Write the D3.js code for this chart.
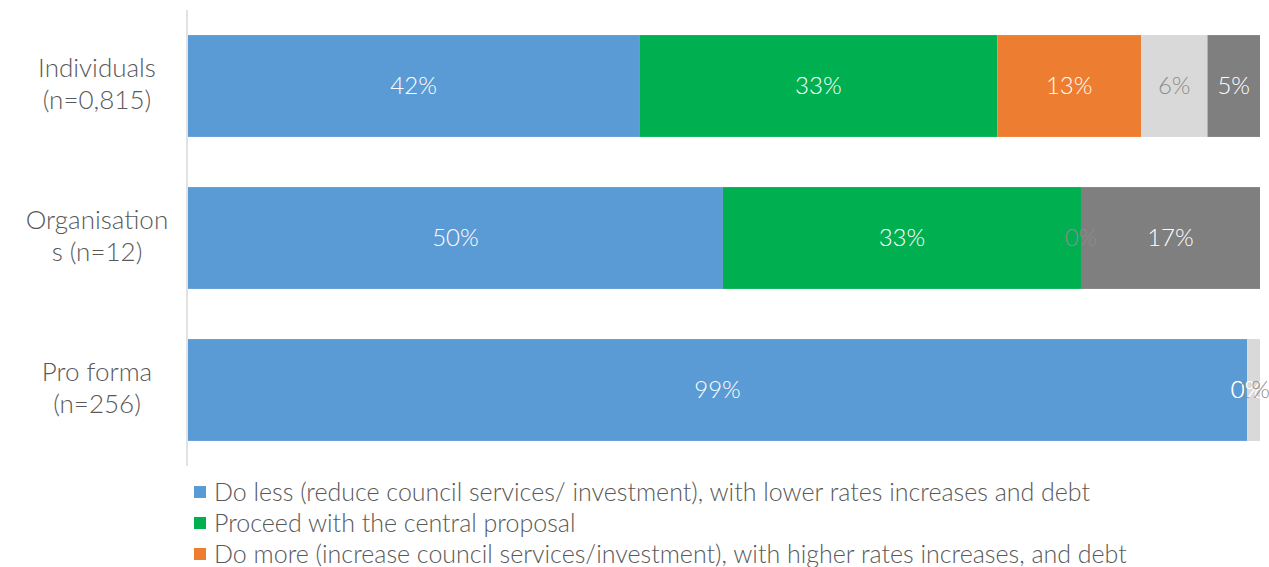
<!DOCTYPE html>
<html lang="en">
<head>
<meta charset="UTF-8">
<title>Chart</title>
<script src="https://cdn.jsdelivr.net/npm/d3@7/dist/d3.min.js"></script>
<style>
  body{margin:0;background:#fff;}
  text{font-family:Lato,"Open Sans",sans-serif;font-weight:300;}
</style>
</head>
<body>
<div class="chart"></div>
<script>
    // categories (two-line labels)
    let categories=[["Individuals","(n=0,815)"],["Organisation","s (n=12)"],["Pro forma","(n=256)"]]
    let seriesNames=[
        "Do less (reduce council services/ investment), with lower rates increases and debt",
        "Proceed with the central proposal",
        "Do more (increase council services/investment), with higher rates increases, and debt",
        "Don't know",
        "Other"
    ]
    let colors=["#5b9bd5","#00b050","#ed7d31","#d9d9d9","#7f7f7f"]
    let labelColors=["#fff","#fff","#fff","#8c8c8c","#fff"]
    // percent values per series, one entry per category
    let doLess=[42.1,49.9,98.8]
    let proceed=[33.4,33.4,0]
    let doMore=[13.4,null,0]
    let dontKnow=[6.2,0,1.2]
    let other=[4.9,16.7,null]
    let values=[doLess,proceed,doMore,dontKnow,other]

    let W=1269,H=567
    let svg=d3.select('.chart').append('svg').attr('width',W).attr('height',H)

    let x=d3.scaleLinear().domain([0,100]).range([188,1260])
    let y=d3.scaleBand().domain(d3.range(categories.length)).range([10,466]).paddingInner(0.33).paddingOuter(0.165)

    // axis line
    svg.append('line').attr('x1',187).attr('x2',187).attr('y1',10).attr('y2',466)
        .attr('stroke','#d9d9d9').attr('stroke-width',1.5)

    // stack
    let rows=categories.map((c,i)=>{
        let o={i:i}
        values.forEach((s,k)=>o[k]=s[i]==null?0:s[i])
        return o
    })
    let stack=d3.stack().keys(d3.range(values.length))(rows)

    let bars=svg.append('g'), labels=svg.append('g')
    stack.forEach((layer,k)=>{
        bars.append('g').selectAll('rect').data(layer).enter().append('rect')
            .attr('x',d=>x(d[0])).attr('width',d=>x(d[1])-x(d[0]))
            .attr('y',(d,i)=>y(i)).attr('height',y.bandwidth())
            .attr('fill',colors[k])
        labels.append('g').selectAll('text').data(layer.filter((d,i)=>values[k][i]!=null))
            .enter().append('text')
            .attr('x',d=>x((d[0]+d[1])/2))
            .attr('y',d=>y(d.data.i)+y.bandwidth()/2)
            .attr('dy','0.35em').attr('text-anchor','middle')
            .attr('fill',labelColors[k]).attr('font-size',24)
            .text(d=>Math.round(values[k][d.data.i])+'%')
    })

    // category labels
    categories.forEach((c,i)=>{
        let t=svg.append('text').attr('x',97).attr('y',y(i)+y.bandwidth()/2)
            .attr('text-anchor','middle').attr('fill','#595959').attr('font-size',26)
        c.forEach((line,j)=>t.append('tspan').attr('x',97).attr('dy',j==0?'-0.35em':'1.25em').text(line))
    })

    // legend (only the entries that fit in the frame)
    let lg=svg.append('g')
    seriesNames.slice(0,3).forEach((n,k)=>{
        let ly=492+k*31
        lg.append('rect').attr('x',194).attr('y',ly-6).attr('width',12).attr('height',12).attr('fill',colors[k])
        lg.append('text').attr('x',214).attr('y',ly).attr('dy','0.35em').attr('fill','#595959')
            .attr('font-size',25).text(n)
    })
</script>
</body>
</html>
